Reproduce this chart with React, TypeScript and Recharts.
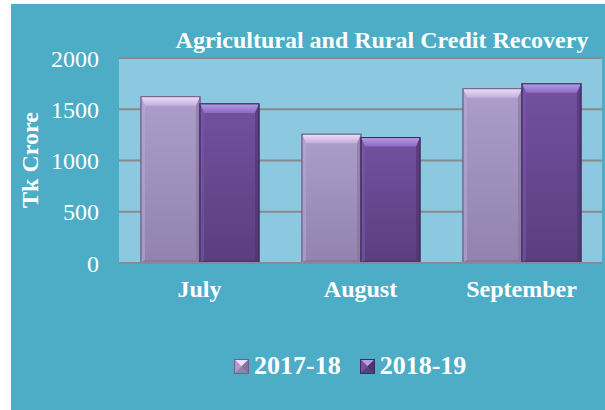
import React from 'react';
import { BarChart, Bar, XAxis, YAxis, CartesianGrid } from 'recharts';

const months = ['July', 'August', 'September'];
const series2017 = [1622, 1256, 1700];
const series2018 = [1552, 1224, 1748];
const yTicks = [0, 500, 1000, 1500, 2000];
const seriesNames = ['2017-18', '2018-19'];

const data = months.map((m, i) => ({ month: m, a: series2017[i], b: series2018[i] }));

const FONT = "'Liberation Serif', 'Times New Roman', serif";
const TEAL = '#4DACC6';

type Pal = { body1: string; body2: string; top1: string; top2: string; side: string; dark: string; stroke: string; id: string };
const pals: Pal[] = [
  { id: 'p1', body1: '#AD9DCB', body2: '#9382AE', top1: '#EEDFF8', top2: '#C3AEDD', side: '#B8A9D4', dark: '#857399', stroke: '#6F6088' },
  { id: 'p2', body1: '#72519F', body2: '#5A3E80', top1: '#B899E6', top2: '#8B6BC3', side: '#7A5AAB', dark: '#4C346D', stroke: '#3F2C5E' },
];

const BevelBar = (pi: number) => (props: any) => {
  const { x, y, width, height } = props;
  if (!height || height <= 0) return null;
  const p = pals[pi];
  const b = Math.min(9, height / 2);
  const bs = 4;
  return (
    <g>
      <rect x={x} y={y} width={width} height={height} fill={`url(#${p.id}body)`} stroke={p.stroke} strokeWidth={1} />
      <polygon points={`${x},${y} ${x + width},${y} ${x + width - bs},${y + b} ${x + bs},${y + b}`} fill={`url(#${p.id}top)`} />
      <polygon points={`${x},${y} ${x + bs},${y + b} ${x + bs},${y + height - 3} ${x},${y + height}`} fill={p.side} opacity={0.55} />
      <polygon points={`${x + width},${y} ${x + width - bs},${y + b} ${x + width - bs},${y + height - 3} ${x + width},${y + height}`} fill={p.dark} opacity={0.6} />
      <polygon points={`${x},${y + height} ${x + bs},${y + height - 3} ${x + width - bs},${y + height - 3} ${x + width},${y + height}`} fill={p.dark} opacity={0.7} />
      <rect x={x} y={y} width={width} height={height} fill="none" stroke={p.stroke} strokeWidth={1} />
    </g>
  );
};

const LegendIcon = ({ p }: { p: Pal }) => (
  <svg width={15} height={15} style={{ display: 'block' }}>
    <rect x={0} y={0} width={15} height={15} fill={p.body2} />
    <polygon points="0,0 15,0 7.5,7.5" fill={p.top1} />
    <polygon points="0,0 7.5,7.5 0,15" fill={p.body1} />
    <polygon points="15,0 7.5,7.5 15,15" fill={p.dark} />
    <rect x={0.5} y={0.5} width={14} height={14} fill="none" stroke={p.stroke} strokeWidth={1} />
  </svg>
);

const LegendBox = () => (
  <div style={{ position: 'absolute', left: 0, top: 347, width: 594, display: 'flex', alignItems: 'center', paddingLeft: 223, boxSizing: 'border-box', fontFamily: FONT, fontWeight: 'bold', fontSize: 26, color: '#ffffff', lineHeight: '30px' }}>
    {seriesNames.map((n, i) => (
      <div key={n} style={{ display: 'flex', alignItems: 'center', marginRight: 19 }}>
        <LegendIcon p={pals[i]} />
        <span style={{ marginLeft: 5 }}>{n}</span>
      </div>
    ))}
  </div>
);

export default function App() {
  return (
    <div style={{ position: 'fixed', left: 11, top: 4, width: 594, height: 406, background: TEAL }}>
      <BarChart width={594} height={406} data={data} margin={{ top: 54, right: 3, left: 0, bottom: 117 }} barCategoryGap={22} barGap={0}>
        <defs>
          {pals.map((p) => (
            <React.Fragment key={p.id}>
              <linearGradient id={`${p.id}body`} x1="0" y1="0" x2="0" y2="1">
                <stop offset="0%" stopColor={p.body1} />
                <stop offset="100%" stopColor={p.body2} />
              </linearGradient>
              <linearGradient id={`${p.id}top`} x1="0" y1="0" x2="0" y2="1">
                <stop offset="0%" stopColor={p.top1} />
                <stop offset="100%" stopColor={p.top2} />
              </linearGradient>
            </React.Fragment>
          ))}
        </defs>
        <CartesianGrid vertical={false} fill="#8CC8E0" stroke="#8A8A8A" strokeWidth={2} fillOpacity={1} />
        <XAxis dataKey="month" height={30} axisLine={{ stroke: '#8A8A8A', strokeWidth: 2 }} tickLine={false} tickSize={6} tickMargin={11}
          tick={{ fill: '#ffffff', fontFamily: FONT, fontWeight: 'bold', fontSize: 24 }} />
        <YAxis domain={[0, 2000]} ticks={yTicks} width={108} axisLine={false} tickLine={false} tickSize={6} tickMargin={14}
          tick={{ fill: '#ffffff', fontFamily: FONT, fontSize: 24 }}
          label={{
            content: () => (
              <text x={19} y={156} transform="rotate(-90 19 156)" textAnchor="middle" dominantBaseline="central"
                fill="#ffffff" fontFamily={FONT} fontWeight="bold" fontSize={24}>Tk Crore</text>
            ),
          }} />
        <Bar dataKey="a" name={seriesNames[0]} fill={pals[0].body1} shape={BevelBar(0)} isAnimationActive={false} />
        <Bar dataKey="b" name={seriesNames[1]} fill={pals[1].body1} shape={BevelBar(1)} isAnimationActive={false} />
        <text x={371} y={44} textAnchor="middle" fill="#ffffff" fontFamily={FONT} fontWeight="bold" fontSize={24}>
          Agricultural and Rural Credit Recovery
        </text>
      </BarChart>
      <LegendBox />
    </div>
  );
}
